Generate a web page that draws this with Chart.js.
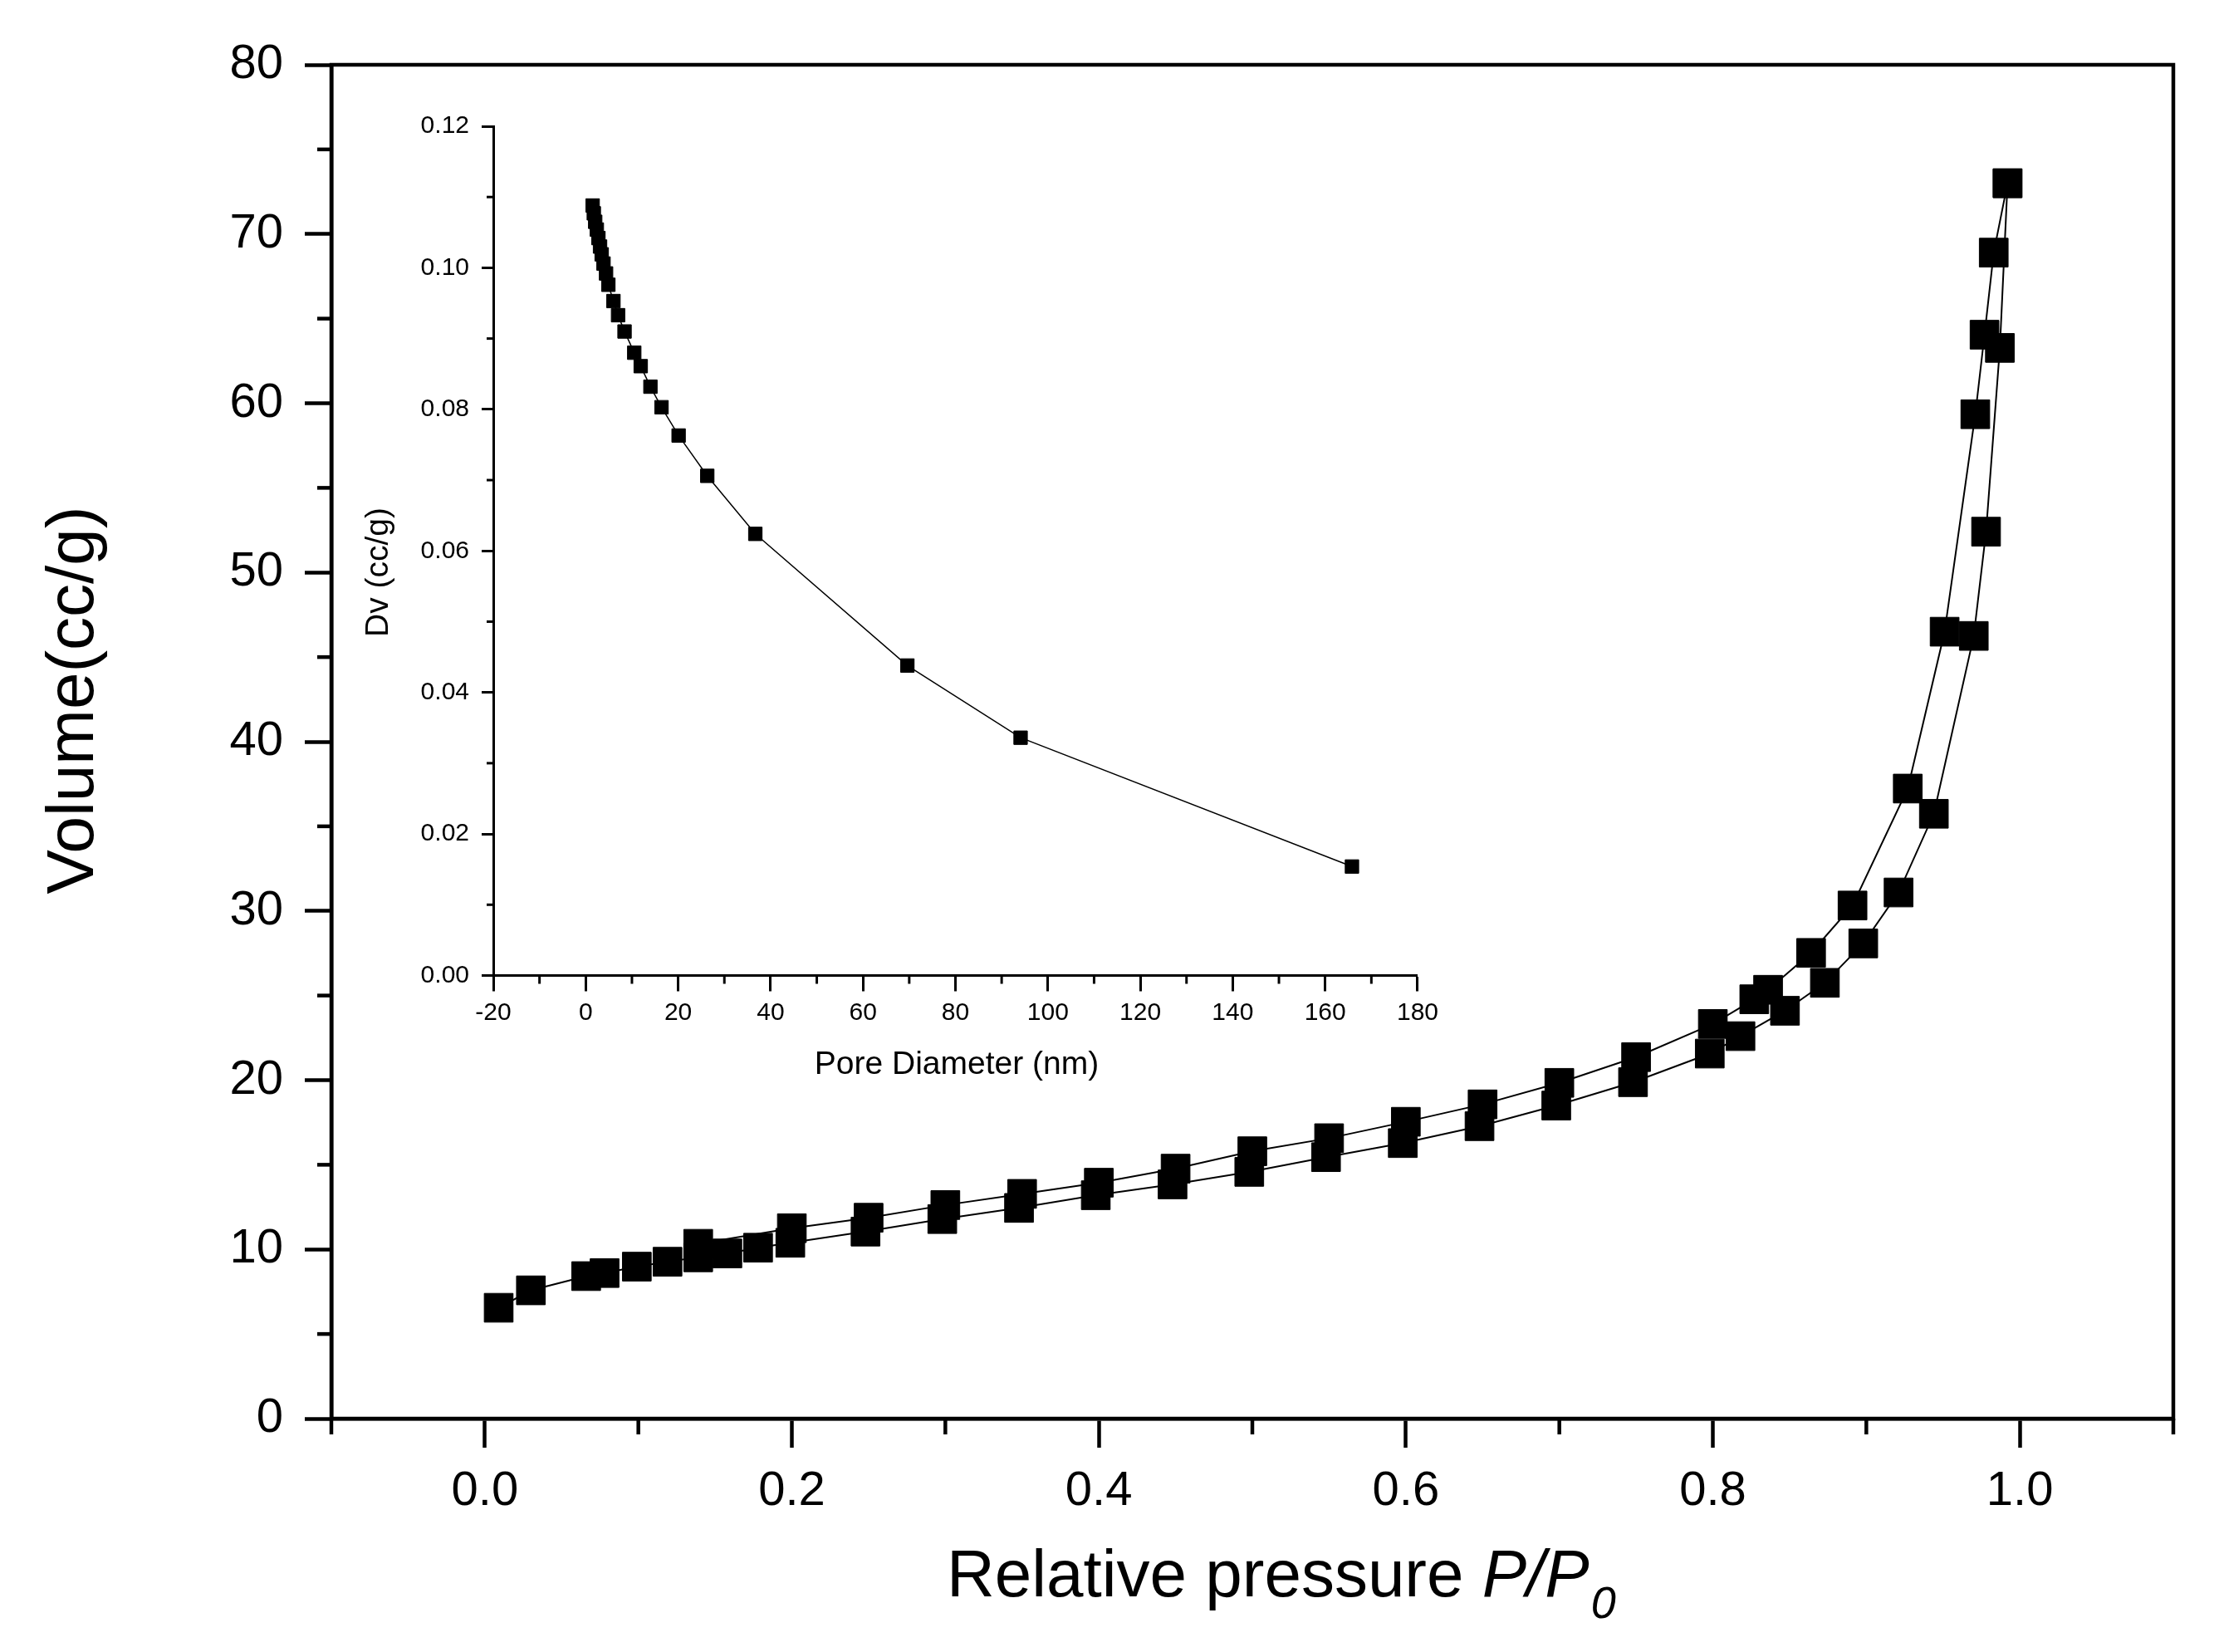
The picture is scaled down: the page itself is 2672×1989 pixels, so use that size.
<!DOCTYPE html>
<html>
<head>
<meta charset="utf-8">
<script src="https://cdn.jsdelivr.net/npm/chart.js@4.4.0/dist/chart.umd.min.js"></script>
<style>
  html, body { margin: 0; padding: 0; background: #fff; }
  #wrap { position: relative; width: 2672px; height: 1989px; }
  #main { position: absolute; left: 0; top: 0; }
  #inset { position: absolute; left: 420px; top: 110px; }
</style>
</head>
<body>
<div id="wrap">
  <canvas id="main" width="2672" height="1989"></canvas>
  <canvas id="inset" width="1320" height="1200"></canvas>
</div>
<script>
// isotherm, adsorption branch
var adsP = [0.009, 0.030, 0.066, 0.078, 0.099, 0.119, 0.139, 0.158, 0.178, 0.199,
            0.248, 0.298, 0.348, 0.398, 0.448, 0.498, 0.548, 0.598, 0.648, 0.698,
            0.748, 0.798, 0.818, 0.847, 0.873, 0.898, 0.921, 0.944, 0.970, 0.978,
            0.987, 0.992];
var adsV = [6.55, 7.58, 8.42, 8.60, 8.98, 9.27, 9.53, 9.76, 10.1, 10.39,
            11.05, 11.79, 12.45, 13.2, 13.84, 14.58, 15.45, 16.28, 17.28, 18.5,
            19.88, 21.57, 22.6, 24.1, 25.75, 28.08, 31.09, 35.74, 46.25, 52.41,
            63.27, 73.0];

// desorption branch
var desP = [0.992, 0.983, 0.977, 0.971, 0.951, 0.927, 0.891, 0.864, 0.836, 0.827,
            0.800, 0.750, 0.700, 0.650, 0.600, 0.550, 0.500, 0.450, 0.400, 0.350,
            0.300, 0.250, 0.200, 0.139];
var desV = [73.0, 68.9, 64.05, 59.35, 46.5, 37.23, 30.32, 27.52, 25.34, 24.78,
            23.32, 21.36, 19.84, 18.57, 17.54, 16.57, 15.8, 14.77, 13.94, 13.28,
            12.62, 11.87, 11.25, 10.33];

// inset: pore size
var poreD = [1.5, 1.75, 2.05, 2.4, 2.75, 3.1, 3.45, 3.85, 4.4, 4.9,
             6.0, 7.0, 8.4, 10.5, 11.9, 14.0, 16.4, 20.1, 26.3, 36.7,
             69.6, 94.1, 165.8];
var poreDv = [0.1088, 0.1077, 0.1065, 0.1054, 0.1042, 0.1030, 0.1019, 0.1006, 0.0992, 0.0976,
              0.0953, 0.0933, 0.0910, 0.0880, 0.0861, 0.0832, 0.0803, 0.0763, 0.0706, 0.0624,
              0.0438, 0.0336, 0.0154];

// ticks
var mainXTicks = [0, 0.2, 0.4, 0.6, 0.8, 1.0];
var mainXMinor = [-0.1, 0.1, 0.3, 0.5, 0.7, 0.9, 1.1];
var mainYTicks = [0, 10, 20, 30, 40, 50, 60, 70, 80];
var mainYMinor = [5, 15, 25, 35, 45, 55, 65, 75];
var insetXTicks = [-20, 0, 20, 40, 60, 80, 100, 120, 140, 160, 180];
var insetXMinor = [-10, 10, 30, 50, 70, 90, 110, 130, 150, 170];
var insetYTicks = [0, 0.02, 0.04, 0.06, 0.08, 0.10, 0.12];
var insetYMinor = [0.01, 0.03, 0.05, 0.07, 0.09, 0.11];

Chart.defaults.font.family = "'Liberation Sans', Arial, sans-serif";
Chart.defaults.color = '#000';

function pts(xs, ys) {
  return xs.map(function (x, i) { return { x: x, y: ys[i] }; });
}

// short outward ticks between the labelled ones
var minorTicks = {
  id: 'minorTicks',
  afterDraw: function (chart, args, o) {
    var ctx = chart.ctx, a = chart.chartArea;
    var sx = chart.scales.x, sy = chart.scales.y;
    ctx.save();
    ctx.strokeStyle = '#000';
    ctx.lineWidth = o.width;
    o.x.forEach(function (v) {
      var px = sx.getPixelForValue(v);
      ctx.beginPath(); ctx.moveTo(px, a.bottom); ctx.lineTo(px, a.bottom + o.xLen); ctx.stroke();
    });
    o.y.forEach(function (v) {
      var py = sy.getPixelForValue(v);
      ctx.beginPath(); ctx.moveTo(a.left, py); ctx.lineTo(a.left - o.yLen, py); ctx.stroke();
    });
    ctx.restore();
  }
};

var frame = {
  id: 'frame',
  afterDraw: function (chart, args, o) {
    if (!o.on) return;
    var ctx = chart.ctx, a = chart.chartArea;
    ctx.save();
    ctx.strokeStyle = '#000';
    ctx.lineWidth = o.width;
    ctx.strokeRect(a.left, a.top, a.right - a.left, a.bottom - a.top);
    ctx.restore();
  }
};

// axis titles (the main x title needs an italic subscript)
var titles = {
  id: 'titles',
  afterDraw: function (chart, args, o) {
    var ctx = chart.ctx;
    ctx.save();
    ctx.fillStyle = '#000';
    ctx.textBaseline = 'alphabetic';
    if (o.kind === 'main') {
      var fam = "'Liberation Sans', Arial, sans-serif";
      var x = 1140, y = 1922;
      ctx.textAlign = 'left';
      ctx.font = '80px ' + fam;
      ctx.fillText('Relative pressure ', x, y);
      x += ctx.measureText('Relative pressure ').width;
      ctx.font = 'italic 80px ' + fam;
      ctx.fillText('P/P', x, y);
      x += ctx.measureText('P/P').width;
      ctx.font = 'italic 54px ' + fam;
      ctx.fillText('0', x + 2, y + 26);

      ctx.translate(112, 843);
      ctx.rotate(-Math.PI / 2);
      ctx.textAlign = 'center';
      ctx.font = '80px ' + fam;
      ctx.fillText('Volume(cc/g)', 0, 0);
    } else {
      ctx.font = "39px 'Liberation Sans', Arial, sans-serif";
      ctx.textAlign = 'center';
      ctx.fillText('Pore Diameter (nm)', 732, 1183);
      ctx.translate(47, 579);
      ctx.rotate(-Math.PI / 2);
      ctx.fillText('Dv (cc/g)', 0, 0);
    }
    ctx.restore();
  }
};

var mainChart = new Chart(document.getElementById('main'), {
  type: 'scatter',
  data: {
    datasets: [
      {
        label: 'Adsorption',
        data: pts(adsP, adsV),
        showLine: true, tension: 0,
        borderColor: '#000', borderWidth: 2,
        pointStyle: 'rect', pointRadius: 24.5,
        pointBackgroundColor: '#000', pointBorderColor: '#000', pointBorderWidth: 1
      },
      {
        label: 'Desorption',
        data: pts(desP, desV),
        showLine: true, tension: 0,
        borderColor: '#000', borderWidth: 2,
        pointStyle: 'rect', pointRadius: 24.5,
        pointBackgroundColor: '#000', pointBorderColor: '#000', pointBorderWidth: 1
      }
    ]
  },
  options: {
    responsive: false,
    animation: false,
    devicePixelRatio: 1,
    layout: { padding: { top: 78, right: 55, left: 0, bottom: 0 } },
    plugins: {
      legend: { display: false },
      tooltip: { enabled: false },
      minorTicks: { x: mainXMinor, y: mainYMinor, xLen: 19, yLen: 17, width: 4.5 },
      frame: { on: true, width: 4.5 },
      titles: { kind: 'main' }
    },
    scales: {
      x: {
        type: 'linear', min: -0.1, max: 1.1,
        afterBuildTicks: function (s) { s.ticks = mainXTicks.map(function (v) { return { value: v }; }); },
        afterFit: function (s) { s.height = 281; },
        ticks: { font: { size: 58 }, padding: 18, maxRotation: 0, autoSkip: false,
                 callback: function (v) { return v.toFixed(1); } },
        grid: { drawOnChartArea: false, tickLength: 35, tickWidth: 4.5, tickColor: '#000' },
        border: { color: '#000', width: 4.5 }
      },
      y: {
        type: 'linear', min: 0, max: 80,
        afterBuildTicks: function (s) { s.ticks = mainYTicks.map(function (v) { return { value: v }; }); },
        afterFit: function (s) { s.width = 399; },
        ticks: { font: { size: 58 }, padding: 26, autoSkip: false,
                 callback: function (v) { return String(v); } },
        grid: { drawOnChartArea: false, tickLength: 32, tickWidth: 4.5, tickColor: '#000' },
        border: { color: '#000', width: 4.5 }
      }
    }
  },
  plugins: [minorTicks, frame, titles]
});

var insetChart = new Chart(document.getElementById('inset'), {
  type: 'scatter',
  data: {
    datasets: [{
      label: 'Dv',
      data: pts(poreD, poreDv),
      showLine: true, tension: 0,
      borderColor: '#000', borderWidth: 1.5,
      pointStyle: 'rect', pointRadius: 11.5,
      pointBackgroundColor: '#000', pointBorderColor: '#000', pointBorderWidth: 1
    }]
  },
  options: {
    responsive: false,
    animation: false,
    devicePixelRatio: 1,
    layout: { padding: { top: 42, right: 30, left: 0, bottom: 0 } },
    plugins: {
      legend: { display: false },
      tooltip: { enabled: false },
      minorTicks: { x: insetXMinor, y: insetYMinor, xLen: 10, yLen: 8, width: 3 },
      frame: { on: false },
      titles: { kind: 'inset' }
    },
    scales: {
      x: {
        type: 'linear', min: -20, max: 180,
        afterBuildTicks: function (s) { s.ticks = insetXTicks.map(function (v) { return { value: v }; }); },
        afterFit: function (s) { s.height = 135.5; },
        ticks: { font: { size: 30 }, padding: 8, maxRotation: 0, autoSkip: false,
                 callback: function (v) { return String(v); } },
        grid: { drawOnChartArea: false, tickLength: 19, tickWidth: 3, tickColor: '#000' },
        border: { color: '#000', width: 3 }
      },
      y: {
        type: 'linear', min: 0, max: 0.12,
        afterBuildTicks: function (s) { s.ticks = insetYTicks.map(function (v) { return { value: v }; }); },
        afterFit: function (s) { s.width = 174; },
        ticks: { font: { size: 30 }, padding: 15, autoSkip: false,
                 callback: function (v) { return v.toFixed(2); } },
        grid: { drawOnChartArea: false, tickLength: 14, tickWidth: 3, tickColor: '#000' },
        border: { color: '#000', width: 3 }
      }
    }
  },
  plugins: [minorTicks, frame, titles]
});
</script>
</body>
</html>
